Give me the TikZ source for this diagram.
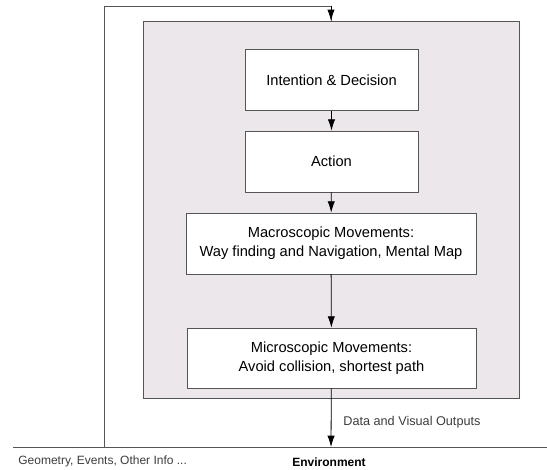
\documentclass[tikz,border=0pt]{standalone}
\usepackage{fontspec}
\setmainfont{Liberation Sans}
\usetikzlibrary{arrows.meta}
\definecolor{panelgray}{RGB}{235,231,235}
\definecolor{edgegray}{RGB}{85,85,85}
\definecolor{notegray}{RGB}{60,60,60}
\begin{document}
\begin{tikzpicture}[x=0.75pt, y=-0.75pt, font=\fontsize{11}{14}\selectfont, >={Latex[length=8.5pt,width=5.5pt]}, line width=0.6pt,
  stage/.style={draw=edgegray, fill=white, align=center, inner sep=0pt},
  note/.style={font=\fontsize{9}{11}\selectfont, text=notegray, inner sep=0pt}]
\useasboundingbox (0,0) rectangle (547,469);
\node[draw=edgegray, fill=panelgray, minimum width=282pt, minimum height=283pt] (panel) at (331,210) {};
\node[stage, minimum width=129.75pt, minimum height=45.4pt] (intent) at (331.5,80) {Intention \& Decision};
\node[stage, minimum width=129.75pt, minimum height=45.75pt] (action) at (331.5,161.5) {Action};
\node[stage, minimum width=217.5pt, minimum height=45.75pt] (macro) at (331,243.5) {Macroscopic Movements:\\Way finding and Navigation, Mental Map};
\node[stage, minimum width=216.75pt, minimum height=45pt] (micro) at (331.5,358) {Microscopic Movements:\\Avoid collision, shortest path};
% environment line and feedback loop
\coordinate (envL) at (13,447);
\coordinate (envR) at (547,447);
\coordinate (envin) at (331,447);
\coordinate (loopB) at (104,447);
\coordinate (loopT) at (104,6);
\draw[edgegray] (envL) -- (envR);
\draw[edgegray] (loopB) -- (loopT) -| (panel.north);
\draw[->] (loopT -| panel.north) -- (panel.north);
\draw[->] (intent) -- (action);
\draw[->] (action) -- (macro);
\draw[->] (macro) -- (micro);
\draw[->] (micro) -- (envin);
\node[note, anchor=west, font=\fontsize{9.5}{11}\selectfont] (outputs) at (343,422) {Data and Visual Outputs};
\node[note, anchor=west] (geometry) at (18,461) {Geometry, Events, Other Info ...};
\node[note, text=black, font=\fontsize{9}{11}\selectfont\bfseries] (env) at (329,462) {Environment};
\end{tikzpicture}
\end{document}
